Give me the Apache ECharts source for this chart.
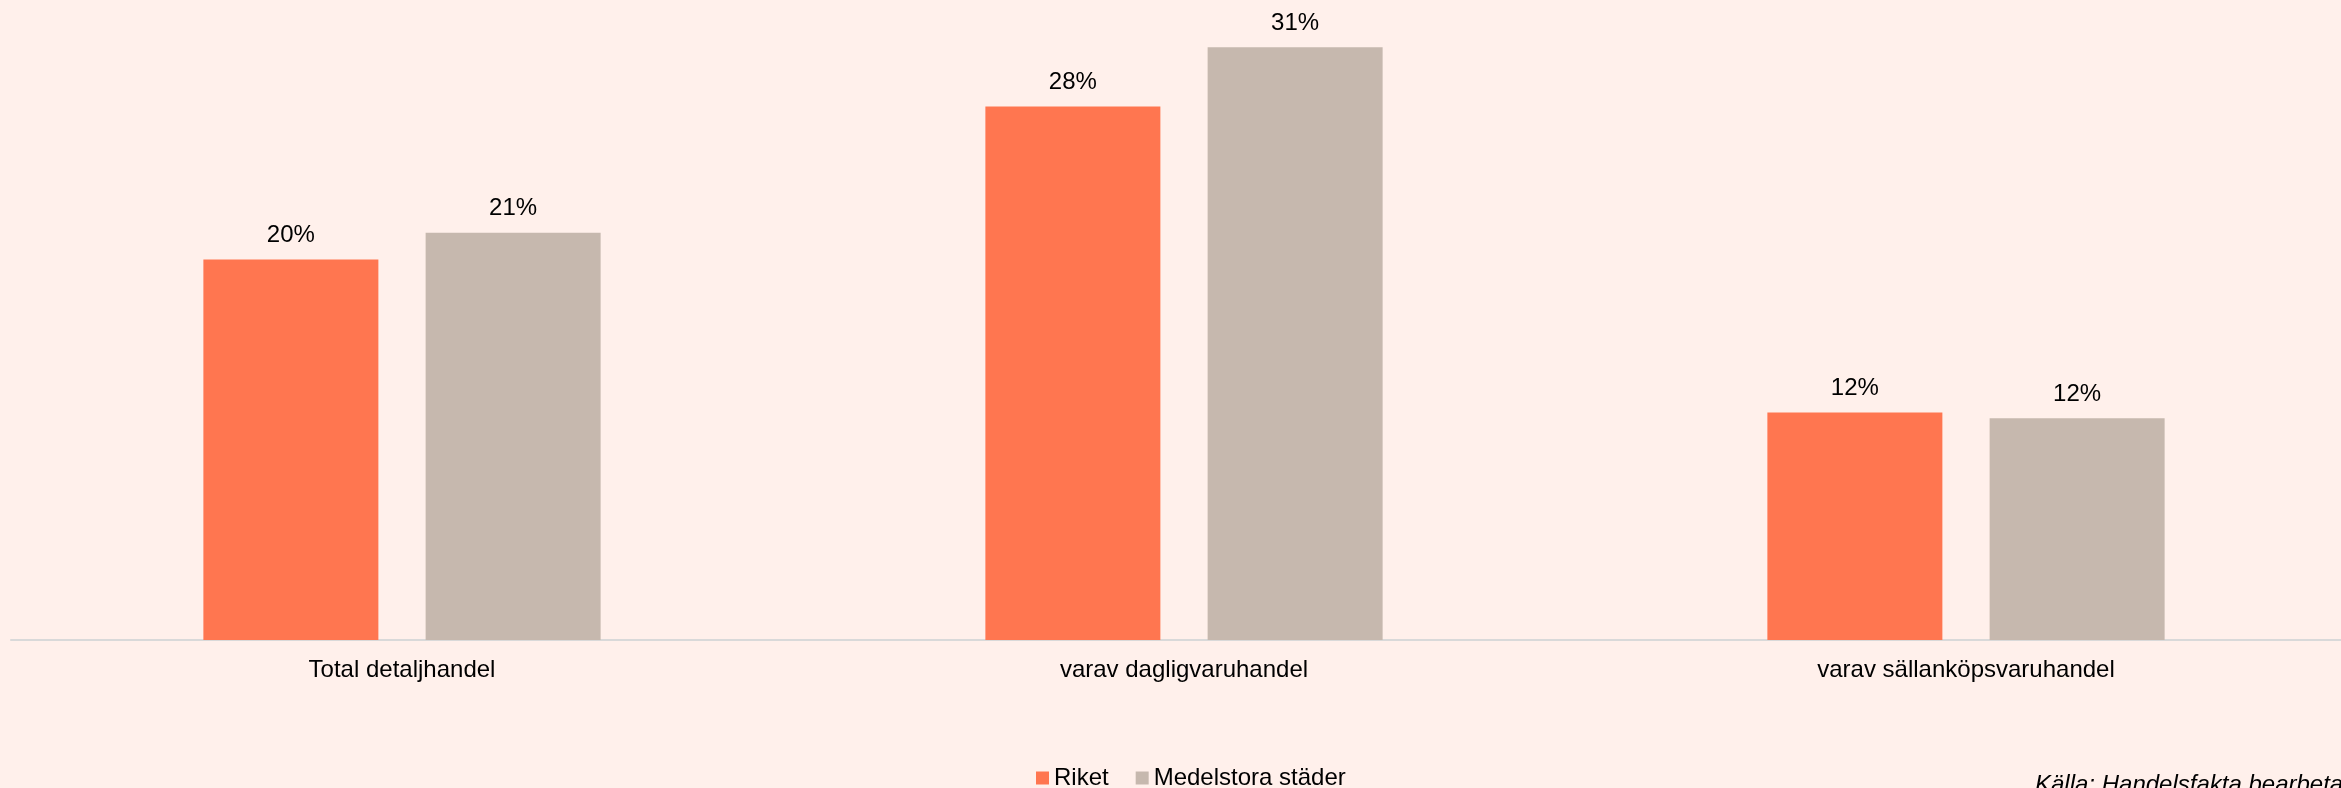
<!DOCTYPE html>
<html>
<head>
<meta charset="utf-8">
<script src="https://cdn.jsdelivr.net/npm/echarts@6/dist/echarts.min.js"></script>
<style>
  html, body { margin: 0; padding: 0; background: #FFF0EB; overflow: hidden; width: 2341px; height: 788px; }
  #chart { width: 2357px; height: 788px; }
</style>
</head>
<body>
<div id="chart"></div>
<script>
const categories = ['Total detaljhandel', 'varav dagligvaruhandel', 'varav sällanköpsvaruhandel'];
const riket = [19.9, 27.9, 11.9];
const medelstora = [21.3, 31.0, 11.6];
const seriesNames = ['Riket', 'Medelstora städer'];
const sourceText = 'Källa: Handelsfakta bearbetat av';

const FONT = 'Arial, "Liberation Sans", sans-serif';
const chart = echarts.init(document.getElementById('chart'));

const labelCfg = {
  show: true,
  position: 'top',
  distance: 12,
  color: '#000',
  fontSize: 24,
  fontFamily: FONT,
  formatter: p => Math.round(p.value) + '%'
};

chart.setOption({
  backgroundColor: '#FFF0EB',
  animation: false,
  grid: { left: 11, right: 0, top: 9, bottom: 148, containLabel: false },
  legend: {
    data: seriesNames,
    left: 1031,
    top: 761,
    itemWidth: 13,
    itemHeight: 13,
    itemGap: 27,
    icon: 'rect',
    textStyle: { fontSize: 24, fontFamily: FONT, color: '#000' }
  },
  xAxis: {
    type: 'category',
    data: categories,
    axisTick: { show: false },
    axisLine: { show: true, lineStyle: { color: '#D9D9D9', width: 2 } },
    axisLabel: { fontSize: 24, fontFamily: FONT, color: '#000', margin: 18 }
  },
  yAxis: {
    type: 'value',
    min: 0,
    max: 33,
    show: false,
    splitLine: { show: false }
  },
  graphic: [{
    type: 'text',
    left: 2035,
    top: 773,
    style: { text: sourceText, fontSize: 24, fontStyle: 'italic', fontFamily: FONT, fill: '#000' }
  }],
  series: [
    {
      name: seriesNames[0], type: 'bar', data: riket,
      barWidth: 175, barGap: '27%',
      itemStyle: { color: '#FF7650' },
      label: labelCfg
    },
    {
      name: seriesNames[1], type: 'bar', data: medelstora,
      barWidth: 175, barGap: '27%',
      itemStyle: { color: '#C6B8AE' },
      label: labelCfg
    }
  ]
});
</script>
</body>
</html>
